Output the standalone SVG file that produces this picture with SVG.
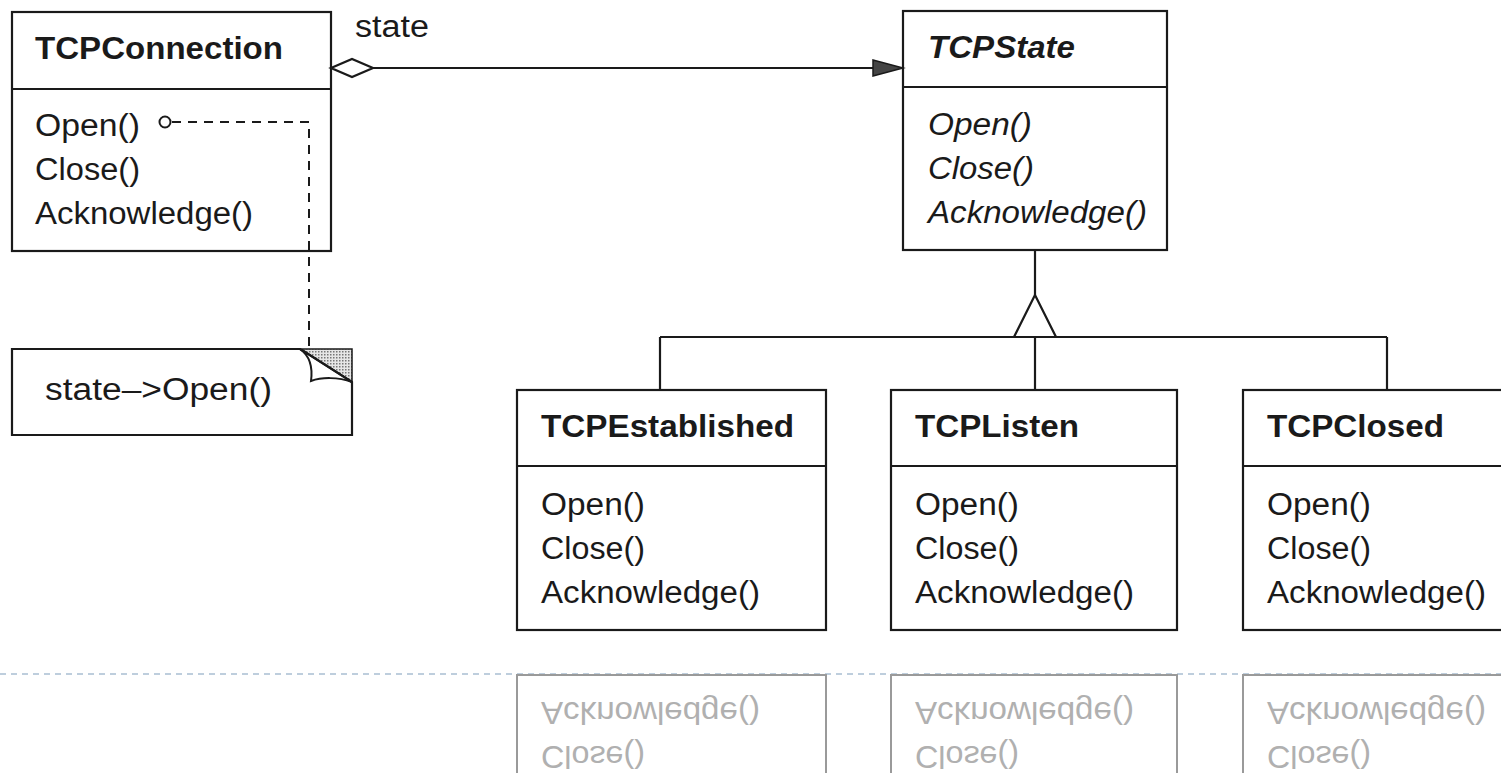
<svg xmlns="http://www.w3.org/2000/svg" width="1501" height="773" viewBox="0 0 1501 773">
<defs>
<style>
.box{fill:#fff;stroke:#1a1a1a;stroke-width:2.2}
.ln{fill:none;stroke:#1a1a1a;stroke-width:2.2}
.dash{fill:none;stroke:#1a1a1a;stroke-width:2;stroke-dasharray:9,7}
text{font-family:"Liberation Sans",Arial,sans-serif;font-size:31px;fill:#1a1a1a}
.b{font-weight:bold}
.i{font-style:italic}
.refl rect{fill:none;stroke:#9a9a9a;stroke-width:2}
.refl text{fill:#b0b0b0}
</style>
<pattern id="dots" width="3" height="3" patternUnits="userSpaceOnUse">
<rect width="3" height="3" fill="#e6e6e6"/>
<rect width="1.5" height="1.5" fill="#777"/>
</pattern>
</defs>
<rect width="1501" height="773" fill="#fff"/>

<g id="reflection" class="refl">
<line x1="0" y1="674" x2="1501" y2="674" stroke="#a9bfd2" stroke-width="1.5" stroke-dasharray="6,5"/>
<g transform="translate(0,1305) scale(1,-1)">
<rect x="517" y="390" width="309" height="240"/>
<rect x="891" y="390" width="286" height="240"/>
<rect x="1243" y="390" width="270" height="240"/>
<text x="541" y="559" textLength="104" lengthAdjust="spacingAndGlyphs">Close()</text>
<text x="541" y="603" textLength="219" lengthAdjust="spacingAndGlyphs">Acknowledge()</text>
<text x="915" y="559" textLength="104" lengthAdjust="spacingAndGlyphs">Close()</text>
<text x="915" y="603" textLength="219" lengthAdjust="spacingAndGlyphs">Acknowledge()</text>
<text x="1267" y="559" textLength="104" lengthAdjust="spacingAndGlyphs">Close()</text>
<text x="1267" y="603" textLength="219" lengthAdjust="spacingAndGlyphs">Acknowledge()</text>
</g>
</g>

<g id="TCPConnection">
<rect class="box" x="12" y="12" width="319" height="239"/>
<line class="ln" x1="12" y1="89" x2="331" y2="89"/>
<text class="b" x="35" y="59" textLength="248" lengthAdjust="spacingAndGlyphs">TCPConnection</text>
<text x="35" y="136" textLength="105" lengthAdjust="spacingAndGlyphs">Open()</text>
<text x="35" y="180" textLength="105" lengthAdjust="spacingAndGlyphs">Close()</text>
<text x="35" y="224" textLength="218" lengthAdjust="spacingAndGlyphs">Acknowledge()</text>
</g>

<g id="note">
<path class="box" d="M12,349 H300 L352,382 V435 H12 Z"/>
<path d="M300,349 H352 V382 Z" fill="url(#dots)" stroke="#1a1a1a" stroke-width="1.5"/>
<path d="M300,349 C310,356 313,366 311,381 C322,377 338,377 352,382 Z" fill="#fff" stroke="#1a1a1a" stroke-width="2"/>
<line class="ln" x1="302" y1="350" x2="352" y2="382"/>
<text x="45" y="400" textLength="227" lengthAdjust="spacingAndGlyphs">state–&gt;Open()</text>
</g>

<g id="TCPState">
<rect class="box" x="903" y="11" width="264" height="239"/>
<line class="ln" x1="903" y1="87" x2="1167" y2="87"/>
<text class="b i" x="928" y="58" textLength="147" lengthAdjust="spacingAndGlyphs">TCPState</text>
<text class="i" x="928" y="135" textLength="104" lengthAdjust="spacingAndGlyphs">Open()</text>
<text class="i" x="928" y="179" textLength="106" lengthAdjust="spacingAndGlyphs">Close()</text>
<text class="i" x="928" y="223" textLength="219" lengthAdjust="spacingAndGlyphs">Acknowledge()</text>
</g>

<g id="TCPEstablished">
<rect class="box" x="517" y="390" width="309" height="240"/>
<line class="ln" x1="517" y1="466" x2="826" y2="466"/>
<text class="b" x="541" y="437" textLength="253" lengthAdjust="spacingAndGlyphs">TCPEstablished</text>
<text x="541" y="515" textLength="104" lengthAdjust="spacingAndGlyphs">Open()</text>
<text x="541" y="559" textLength="104" lengthAdjust="spacingAndGlyphs">Close()</text>
<text x="541" y="603" textLength="219" lengthAdjust="spacingAndGlyphs">Acknowledge()</text>
</g>

<g id="TCPListen">
<rect class="box" x="891" y="390" width="286" height="240"/>
<line class="ln" x1="891" y1="466" x2="1177" y2="466"/>
<text class="b" x="915" y="437" textLength="164" lengthAdjust="spacingAndGlyphs">TCPListen</text>
<text x="915" y="515" textLength="104" lengthAdjust="spacingAndGlyphs">Open()</text>
<text x="915" y="559" textLength="104" lengthAdjust="spacingAndGlyphs">Close()</text>
<text x="915" y="603" textLength="219" lengthAdjust="spacingAndGlyphs">Acknowledge()</text>
</g>

<g id="TCPClosed">
<rect class="box" x="1243" y="390" width="270" height="240"/>
<line class="ln" x1="1243" y1="466" x2="1513" y2="466"/>
<text class="b" x="1267" y="437" textLength="177" lengthAdjust="spacingAndGlyphs">TCPClosed</text>
<text x="1267" y="515" textLength="104" lengthAdjust="spacingAndGlyphs">Open()</text>
<text x="1267" y="559" textLength="104" lengthAdjust="spacingAndGlyphs">Close()</text>
<text x="1267" y="603" textLength="219" lengthAdjust="spacingAndGlyphs">Acknowledge()</text>
</g>

<g id="connectors">
<line class="ln" x1="373" y1="68" x2="880" y2="68"/>
<polygon points="331,68 352,59 373,68 352,77" fill="#fff" stroke="#1a1a1a" stroke-width="2.2"/>
<polygon points="873,60 903,68 873,76" fill="#444" stroke="#1a1a1a" stroke-width="1.5"/>
<text x="355" y="37" textLength="74" lengthAdjust="spacingAndGlyphs">state</text>
<line class="ln" x1="1035" y1="250" x2="1035" y2="295"/>
<polygon points="1035,295 1056,337 1014,337" fill="#fff" stroke="#1a1a1a" stroke-width="2.2"/>
<line class="ln" x1="660" y1="337" x2="1387" y2="337"/>
<line class="ln" x1="660" y1="337" x2="660" y2="390"/>
<line class="ln" x1="1035" y1="337" x2="1035" y2="390"/>
<line class="ln" x1="1387" y1="337" x2="1387" y2="390"/>
<circle cx="165" cy="122" r="5.5" fill="#fff" stroke="#1a1a1a" stroke-width="2"/>
<path class="dash" d="M172,122 H309 V350"/>
</g>
</svg>
